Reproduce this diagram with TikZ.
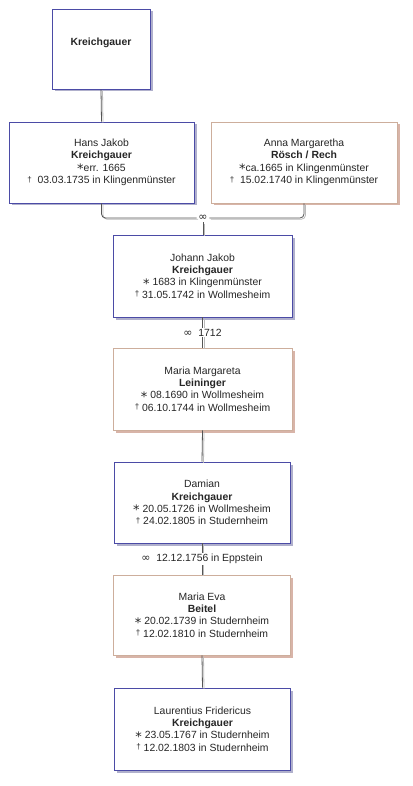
\documentclass[tikz,border=0pt]{standalone}
\usepackage{fontspec}
\setmainfont{Liberation Sans}
\newfontfamily\symfont{DejaVu Sans}
\definecolor{mborder}{HTML}{4B4BA6}
\definecolor{mshadow}{HTML}{B0B0CC}
\definecolor{fborder}{HTML}{CDAE9C}
\definecolor{fshadow}{HTML}{D8B4A8}
\definecolor{lineA}{HTML}{555555}
\definecolor{lineB}{HTML}{BBBBBB}
\newcommand{\bsym}{\smash{\raisebox{-0.45ex}{\symfont\fontsize{13}{10}\selectfont *}}}
\newcommand{\dsym}{\smash{\raisebox{0.3ex}{\fontsize{8}{8}\selectfont †}}}
\newcommand{\msym}{{\symfont\fontsize{11}{10}\selectfont ∞}}
\begin{document}
\begin{tikzpicture}[x=1pt,y=-1pt,
  every node/.style={font=\fontsize{10.4}{12.4}\selectfont, text=black!85},
  person/.style={rectangle, fill=white, line width=0.9pt, align=center, inner sep=0pt},
  male/.style={person, draw=mborder, preaction={fill=mshadow, transform canvas={xshift=2.5pt,yshift=-2.5pt}}},
  female/.style={person, draw=fborder, preaction={fill=fshadow, transform canvas={xshift=2.5pt,yshift=-2.5pt}}},
  conn/.style={draw=lineA, line width=0.8pt, preaction={draw=lineB, line width=0.8pt, transform canvas={xshift=1.5pt,yshift=-1.2pt}}},
  lbl/.style={fill=white, inner sep=1pt}
]
\useasboundingbox (0,0) rectangle (412,786);
\fill[white] (0,0) rectangle (412,786);

\node[male, minimum width=98pt, minimum height=80pt] (top) at (101,49) {};
\node (toptext) at (101,43) {\textbf{Kreichgauer}};

\node[male, minimum width=185pt, minimum height=81pt] (hans) at (101.5,162.5)
  {Hans Jakob\\\textbf{Kreichgauer}\\\bsym err. 1665\\\dsym\ \ 03.03.1735 in Klingenmünster};
\node[female, minimum width=186pt, minimum height=81pt] (anna) at (304,162.5)
  {Anna Margaretha\\\textbf{Rösch / Rech}\\\bsym ca.1665 in Klingenmünster\\\dsym\ \ 15.02.1740 in Klingenmünster};

\node[male, minimum width=179pt, minimum height=82pt] (johann) at (202.5,276)
  {Johann Jakob\\\textbf{Kreichgauer}\\\bsym\ 1683 in Klingenmünster\\\dsym\ 31.05.1742 in Wollmesheim};
\node[female, minimum width=179pt, minimum height=82pt] (mm) at (202.5,389)
  {Maria Margareta\\\textbf{Leininger}\\\bsym\ 08.1690 in Wollmesheim\\\dsym\ 06.10.1744 in Wollmesheim};
\node[male, minimum width=176pt, minimum height=81pt] (damian) at (202,502.5)
  {Damian\\\textbf{Kreichgauer}\\\bsym\ 20.05.1726 in Wollmesheim\\\dsym\ 24.02.1805 in Studernheim};
\node[female, minimum width=177pt, minimum height=80pt] (eva) at (202,615)
  {Maria Eva\\\textbf{Beitel}\\\bsym\ 20.02.1739 in Studernheim\\\dsym\ 12.02.1810 in Studernheim};
\node[male, minimum width=176pt, minimum height=82pt] (laur) at (202.5,729)
  {Laurentius Fridericus\\\textbf{Kreichgauer}\\\bsym\ 23.05.1767 in Studernheim\\\dsym\ 12.02.1803 in Studernheim};

\node[inner sep=1.5pt, fill=white] (m1) at (203,218) {\msym};

\path[conn] (top.south) -- (hans.north);
\path[conn, rounded corners=4pt] (hans.south) |- (m1.west);
\path[conn, rounded corners=4pt] (anna.south) |- (m1.east);
\path[conn] (m1.south) -- (m1.south |- johann.north);
\path[conn] (johann.south) -- node[lbl] {\msym\ \ 1712} (mm.north);
\path[conn] (mm.south) -- (damian.north);
\path[conn] (damian.south) -- node[lbl] {\msym\ \ 12.12.1756 in Eppstein} (eva.north);
\path[conn] (eva.south) -- (laur.north);
\end{tikzpicture}
\end{document}
